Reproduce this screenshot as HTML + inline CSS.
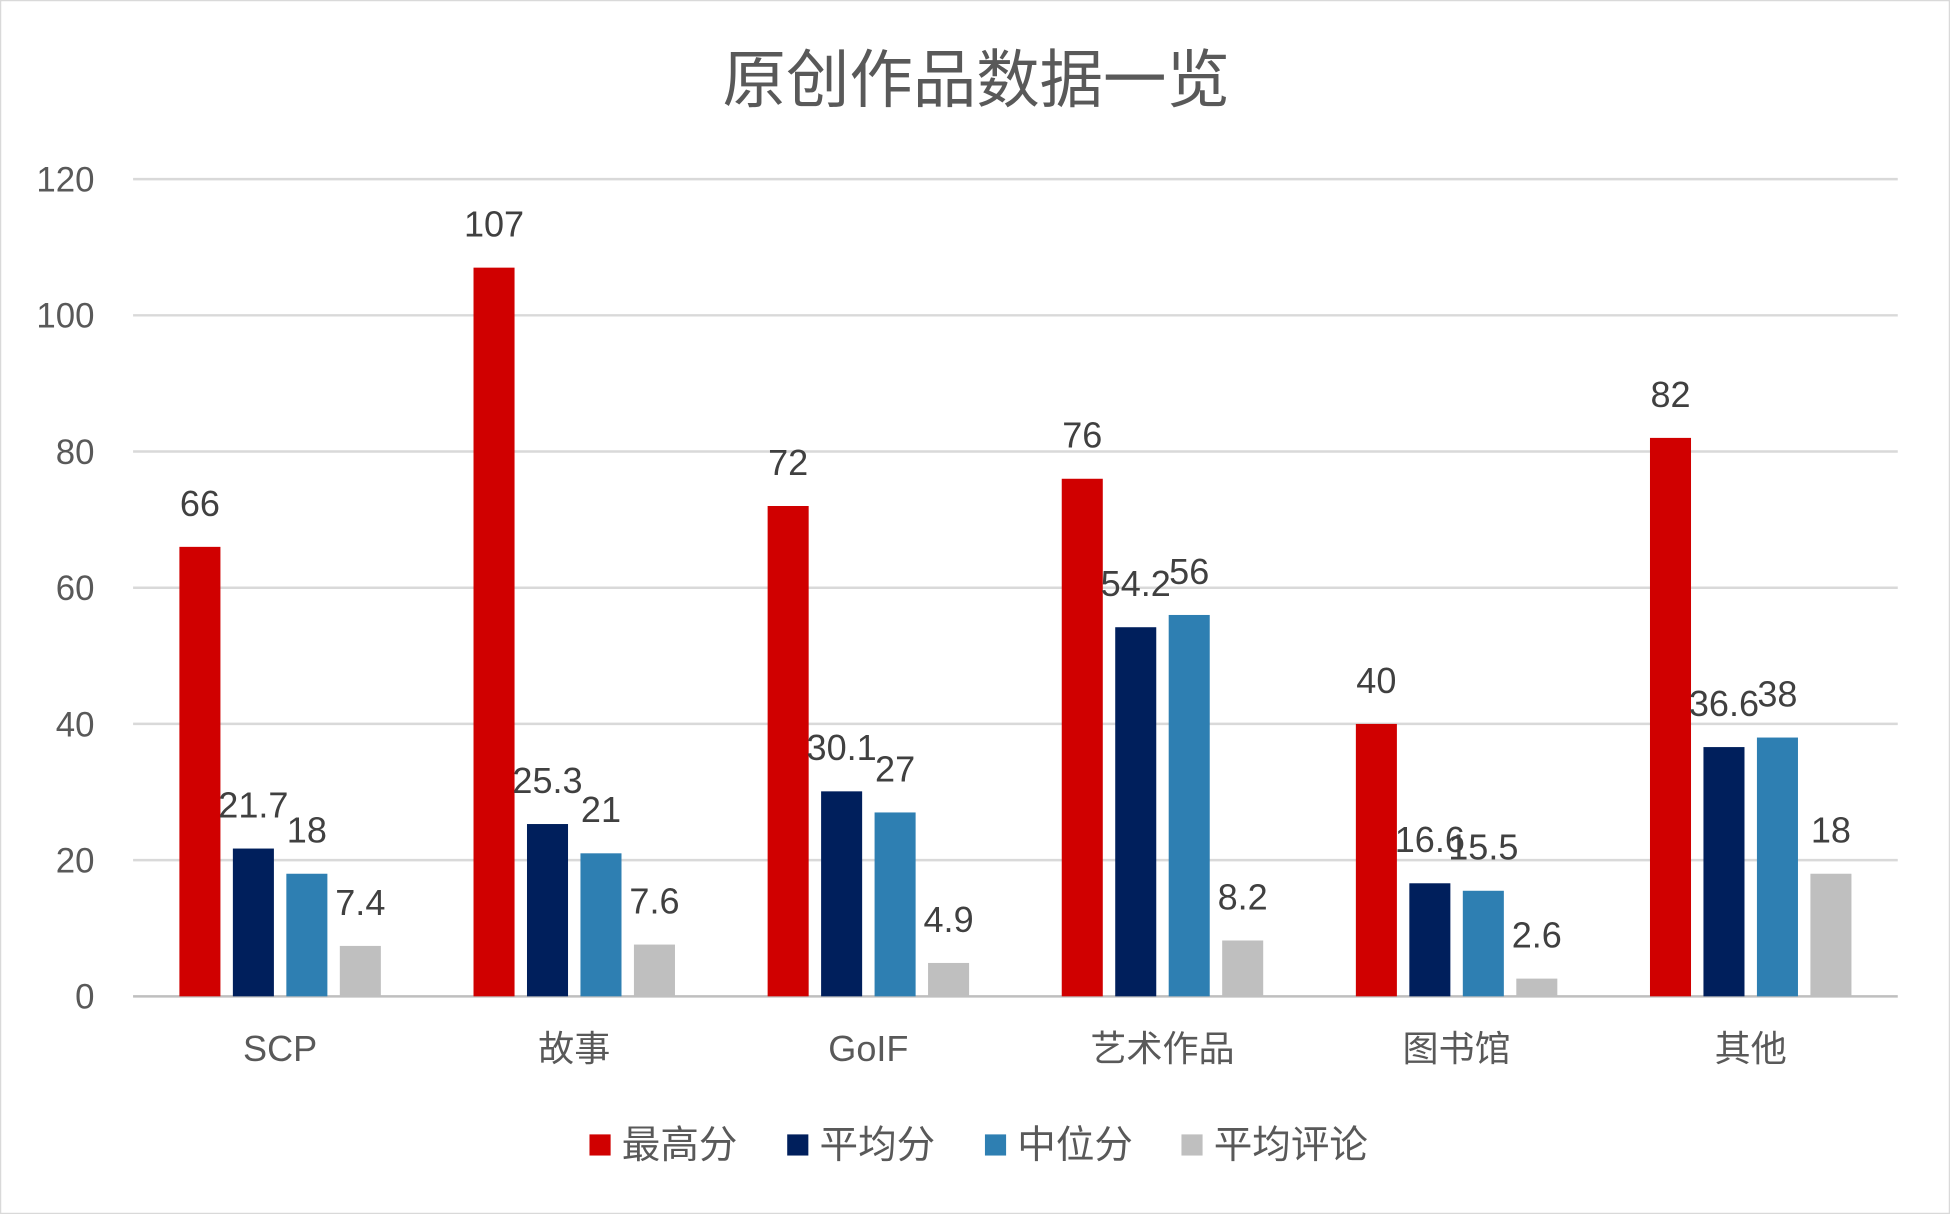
<!DOCTYPE html>
<html><head><meta charset="utf-8"><style>
html,body{margin:0;padding:0;background:#fff;}
svg{display:block;font-family:"Liberation Sans","Noto Sans CJK SC",sans-serif;}
</style></head><body>
<svg id="chart" width="1950" height="1214" viewBox="0 0 1568 976" preserveAspectRatio="none">
<rect x="0.5" y="0.5" width="1567" height="975" fill="#fff" stroke="#d9d9d9" stroke-width="1"/>
<text x="785" y="82" font-size="51" fill="#595959" text-anchor="middle">原创作品数据一览</text>
<g id="grid"></g><g id="bars"></g><g id="labels"></g>
<g id="legend"></g>
</svg>
<script>
const categories=["SCP","故事","GoIF","艺术作品","图书馆","其他"];
const seriesNames=["最高分","平均分","中位分","平均评论"];
const maxScore=[66,107,72,76,40,82];
const avgScore=[21.7,25.3,30.1,54.2,16.6,36.6];
const medianScore=[18,21,27,56,15.5,38];
const avgComments=[7.4,7.6,4.9,8.2,2.6,18];
const yTicks=[0,20,40,60,80,100,120];
const series=[maxScore,avgScore,medianScore,avgComments];
const colors=["#d00000","#001f5c","#2e7fb2","#bfbfbf"];
const NS="http://www.w3.org/2000/svg";
const X0=107,X1=1526,Y0=801,Y120=144;
const y=v=>Y0-(v/120)*(Y0-Y120);
const gw=(X1-X0)/categories.length;
const gx=i=>X0+gw*(i+0.5);
const bw=33,step=43;
function mk(t,a,p){const e=document.createElementNS(NS,t);for(const k in a)e.setAttribute(k,a[k]);p.appendChild(e);return e;}
const grid=document.getElementById('grid');
yTicks.forEach(t=>{
  const l=mk('line',{x1:X0,x2:X1,y1:y(t),y2:y(t),stroke:t===0?'#bfbfbf':'#d9d9d9','stroke-width':2},grid);
  
  
  const tx=mk('text',{x:76,y:y(t)+10,'font-size':28,fill:'#595959','text-anchor':'end'},grid);
  tx.textContent=t;
  
  
});
const bars=document.getElementById('bars'),labels=document.getElementById('labels');
categories.forEach((c,i)=>{
  series.forEach((s,j)=>{
    const cx=gx(i)+(j-1.5)*step;
    const r=mk('rect',{x:cx-bw/2,y:y(s[i]),width:bw,height:Y0-y(s[i]),fill:colors[j]},bars);
    
    
    const t=mk('text',{x:cx,y:y(s[i])-25,'font-size':29,fill:'#404040','text-anchor':'middle'},labels);
    t.textContent=s[i];
    
    
  });
  const ct=mk('text',{x:gx(i),y:853,'font-size':29,fill:'#595959','text-anchor':'middle'},labels);
  ct.textContent=c;
  
  
});
const lg=document.getElementById('legend');
const lx=[474,633,792,950];
seriesNames.forEach((n,j)=>{
  const r=mk('rect',{x:lx[j],y:912,width:17,height:17,fill:colors[j]},lg);
  
  
  const t=mk('text',{x:lx[j]+26,y:931,'font-size':31,fill:'#595959'},lg);
  t.textContent=n;
  
  
});
</script>
</body></html>
